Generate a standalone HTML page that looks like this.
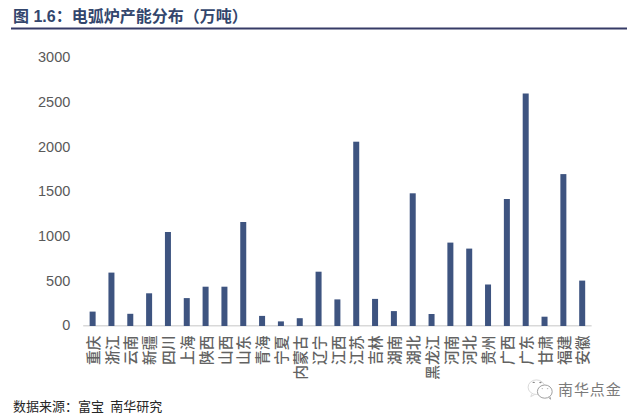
<!DOCTYPE html>
<html><head><meta charset="utf-8"><title>电弧炉产能分布</title>
<style>
html,body{margin:0;padding:0;background:#fff;}
body{width:640px;height:417px;position:relative;overflow:hidden;}
.title{position:absolute;left:13px;top:6px;font:bold 16px/22px "Liberation Sans","Noto Sans CJK SC",sans-serif;color:#33466d;white-space:nowrap;}
.rule{position:absolute;left:11px;top:27.5px;width:616px;height:2px;background:#363b67;}
.yl{position:absolute;right:569.7px;height:0;font:14.5px/0 "Liberation Sans",sans-serif;color:#595959;}
.xl{position:absolute;top:335px;width:0;height:0;}
.xl{font:500 14.8px/1 "Liberation Sans","Noto Sans CJK SC",sans-serif;color:#626262;}
.xl span{position:absolute;right:0;top:-0.5em;line-height:1em;white-space:nowrap;transform-origin:100% 50%;transform:rotate(-90deg);}
.src{position:absolute;left:13px;top:397.8px;font:13px/18px "Liberation Sans","Noto Sans CJK SC",sans-serif;color:#262626;white-space:nowrap;}
.wm{position:absolute;left:558px;top:381.2px;letter-spacing:0.9px;font:15px/18px "Liberation Sans","Noto Sans CJK SC",sans-serif;color:#7a7a7a;white-space:nowrap;}
svg{position:absolute;left:0;top:0;}
</style></head><body>
<div class="title">图 1.6：电弧炉产能分布（万吨）</div>
<svg width="640" height="417" viewBox="0 0 640 417">
<rect x="11" y="27.5" width="616" height="2" fill="#363b67"/>
<rect x="83.2" y="325" width="508.41" height="1.5" fill="#d9d9d9"/>
<g fill="#3e5480">
<rect x="89.62" y="311.60" width="6.0" height="14.40"/>
<rect x="108.44" y="272.60" width="6.0" height="53.40"/>
<rect x="127.28" y="313.80" width="6.0" height="12.20"/>
<rect x="146.11" y="293.30" width="6.0" height="32.70"/>
<rect x="164.94" y="232.00" width="6.0" height="94.00"/>
<rect x="183.76" y="298.10" width="6.0" height="27.90"/>
<rect x="202.59" y="286.70" width="6.0" height="39.30"/>
<rect x="221.43" y="286.70" width="6.0" height="39.30"/>
<rect x="240.25" y="222.00" width="6.0" height="104.00"/>
<rect x="259.08" y="315.90" width="6.0" height="10.10"/>
<rect x="277.91" y="321.40" width="6.0" height="4.60"/>
<rect x="296.75" y="318.20" width="6.0" height="7.80"/>
<rect x="315.57" y="271.70" width="6.0" height="54.30"/>
<rect x="334.40" y="299.40" width="6.0" height="26.60"/>
<rect x="353.23" y="141.70" width="6.0" height="184.30"/>
<rect x="372.06" y="298.90" width="6.0" height="27.10"/>
<rect x="390.89" y="311.10" width="6.0" height="14.90"/>
<rect x="409.72" y="193.30" width="6.0" height="132.70"/>
<rect x="428.55" y="314.00" width="6.0" height="12.00"/>
<rect x="447.38" y="242.60" width="6.0" height="83.40"/>
<rect x="466.21" y="248.60" width="6.0" height="77.40"/>
<rect x="485.04" y="284.50" width="6.0" height="41.50"/>
<rect x="503.87" y="199.00" width="6.0" height="127.00"/>
<rect x="522.70" y="93.50" width="6.0" height="232.50"/>
<rect x="541.53" y="316.70" width="6.0" height="9.30"/>
<rect x="560.37" y="174.10" width="6.0" height="151.90"/>
<rect x="579.19" y="280.60" width="6.0" height="45.40"/>
</g>
<g fill="none" stroke="#dadada" stroke-width="1">
<path d="M531.8,394.2 L530.8,396.6 L534.6,394.6"/>
<ellipse cx="536.4" cy="387.2" rx="8.3" ry="7.3"/>
<ellipse cx="544.8" cy="391.6" rx="7.4" ry="6.6" fill="#fff" stroke="#a0a0a0"/>
<path d="M548.5,397.3 L550.6,399.2 L549.9,396.6" stroke="#a0a0a0" fill="#fff"/>
</g>
<g fill="#8a8a8a">
<ellipse cx="533.7" cy="382.4" rx="1.2" ry="0.7"/>
<ellipse cx="540.4" cy="382.5" rx="1.2" ry="0.7"/>
<ellipse cx="542.3" cy="388.6" rx="0.8" ry="0.7" fill="#b8b8b8"/>
<ellipse cx="547.6" cy="388.6" rx="0.8" ry="0.7" fill="#b8b8b8"/>
</g>
</svg>
<div class="yl" style="top:57.10px">3000</div>
<div class="yl" style="top:101.83px">2500</div>
<div class="yl" style="top:146.56px">2000</div>
<div class="yl" style="top:191.29px">1500</div>
<div class="yl" style="top:236.02px">1000</div>
<div class="yl" style="top:280.75px">500</div>
<div class="yl" style="top:325.48px">0</div>
<div class="xl" style="left:94.42px"><span>重庆</span></div>
<div class="xl" style="left:113.24px"><span>浙江</span></div>
<div class="xl" style="left:132.08px"><span>云南</span></div>
<div class="xl" style="left:150.91px"><span>新疆</span></div>
<div class="xl" style="left:169.74px"><span>四川</span></div>
<div class="xl" style="left:188.56px"><span>上海</span></div>
<div class="xl" style="left:207.39px"><span>陕西</span></div>
<div class="xl" style="left:226.23px"><span>山西</span></div>
<div class="xl" style="left:245.06px"><span>山东</span></div>
<div class="xl" style="left:263.88px"><span>青海</span></div>
<div class="xl" style="left:282.71px"><span>宁夏</span></div>
<div class="xl" style="left:301.55px"><span>内蒙古</span></div>
<div class="xl" style="left:320.38px"><span>辽宁</span></div>
<div class="xl" style="left:339.20px"><span>江西</span></div>
<div class="xl" style="left:358.03px"><span>江苏</span></div>
<div class="xl" style="left:376.86px"><span>吉林</span></div>
<div class="xl" style="left:395.69px"><span>湖南</span></div>
<div class="xl" style="left:414.52px"><span>湖北</span></div>
<div class="xl" style="left:433.35px"><span>黑龙江</span></div>
<div class="xl" style="left:452.18px"><span>河南</span></div>
<div class="xl" style="left:471.01px"><span>河北</span></div>
<div class="xl" style="left:489.84px"><span>贵州</span></div>
<div class="xl" style="left:508.67px"><span>广西</span></div>
<div class="xl" style="left:527.50px"><span>广东</span></div>
<div class="xl" style="left:546.33px"><span>甘肃</span></div>
<div class="xl" style="left:565.16px"><span>福建</span></div>
<div class="xl" style="left:583.99px"><span>安徽</span></div>
<div class="src">数据来源：富宝<span style="display:inline-block;width:6.2px"> </span>南华研究</div>
<div class="wm">南华点金</div>
</body></html>
